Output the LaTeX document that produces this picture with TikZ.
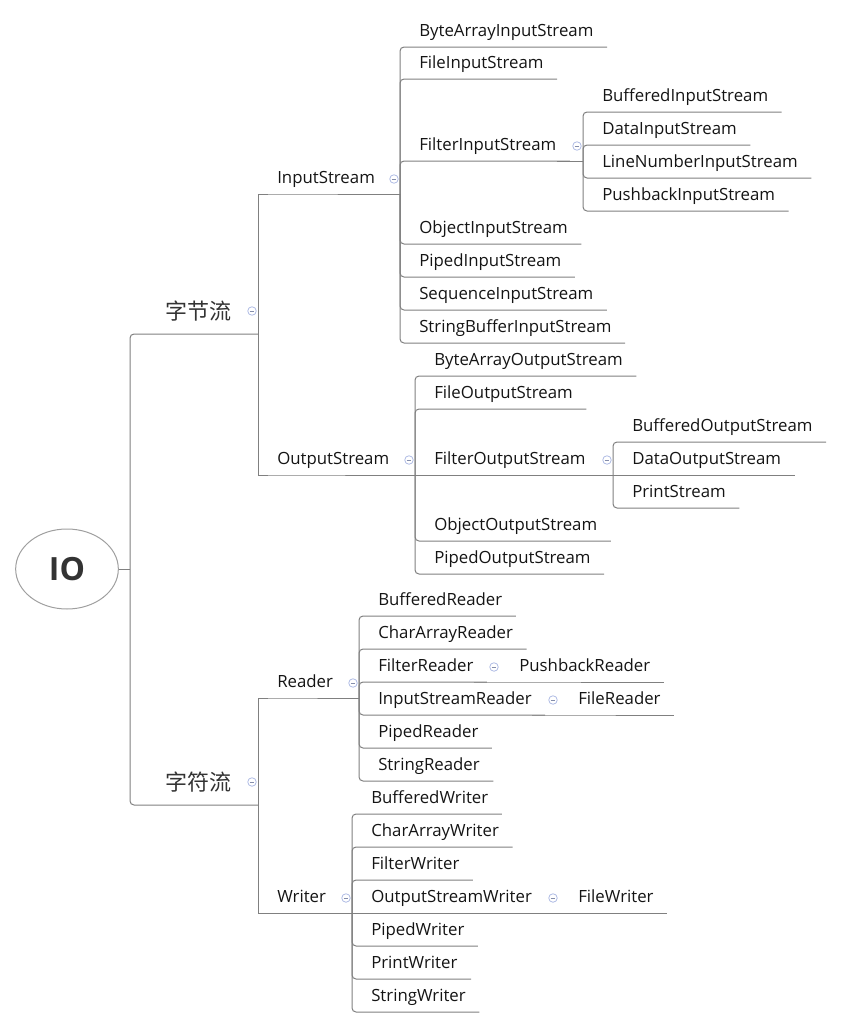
\documentclass[tikz,border=0pt]{standalone}
\usepackage{fontspec}
\setmainfont{Open Sans}
\newfontfamily\cjk{Noto Sans CJK SC}
\usepackage{tikz}
\usetikzlibrary{positioning,shapes.geometric}

\definecolor{linegray}{RGB}{128,128,128}
\definecolor{foldblue}{RGB}{176,188,228}
\definecolor{textdark}{RGB}{51,51,51}

\tikzset{
  link/.style={draw=linegray, line width=0.75pt, rounded corners=3pt},
  stem/.style={draw=linegray, line width=0.75pt},
  leaf/.style={anchor=south west, inner sep=0pt, text height=9pt, text depth=7.5pt,
    font=\fontsize{12.6}{14}\selectfont, text=black!92},
  cat/.style={anchor=south west, inner sep=0pt, text height=13pt, text depth=10.5pt,
    font=\cjk\fontsize{16.5}{18}\selectfont, text=textdark},
  iobox/.style={ellipse, draw=gray!75, line width=0.75pt, minimum width=77pt,
    minimum height=60pt, inner sep=0pt, font=\bfseries\fontsize{24}{26}\selectfont,
    text=textdark},
  fold/.style={circle, draw=foldblue, line width=0.6pt, minimum size=6.4pt, inner sep=0pt,
    path picture={\draw[foldblue!75!black, line width=0.6pt]
      ([xshift=-1.7pt]path picture bounding box.center) --
      ([xshift=1.7pt]path picture bounding box.center);}},
}

\begin{document}
\begin{tikzpicture}[x=0.75pt, y=-0.75pt]
    \useasboundingbox (0,0) rectangle (844,1028);

    % 
    \node[iobox] (io) at (67,569) {IO};
    \coordinate (io-j) at (130,569);
    \draw[stem] (io) -- (io-j);

    % 
    \node[cat] (byte) at (165,334) {字节流};
    \node[cat] (char) at (165,805) {字符流};
    \coordinate (byte-j) at (258,334);
    \coordinate (char-j) at (258,805);
    \draw[link] (io-j) |- (byte.south west) -- (byte-j);
    \draw[link] (io-j) |- (char.south west) -- (char-j);

    % 
    \node[leaf] (is) at (277,194) {InputStream};
    \node[leaf] (os) at (277,475) {OutputStream};
    \node[leaf] (rd) at (277,698) {Reader};
    \node[leaf] (wr) at (277,913) {Writer};
    \coordinate (is-j) at (400,194);
    \coordinate (os-j) at (415,475);
    \coordinate (rd-j) at (359,698);
    \coordinate (wr-j) at (352,913);
    \draw[stem] (byte-j) |- (is.south west) -- (is-j);
    \draw[stem] (byte-j) |- (os.south west) -- (os-j);
    \draw[stem] (char-j) |- (rd.south west) -- (rd-j);
    \draw[stem] (char-j) |- (wr.south west) -- (wr-j);

    % 
    \foreach \n/\txt/\y in {bais/ByteArrayInputStream/47, fis/FileInputStream/79,
        fils/FilterInputStream/161, ois/ObjectInputStream/244, pis/PipedInputStream/277,
        sis/SequenceInputStream/310, sbis/StringBufferInputStream/343} {
        \node[leaf] (\n) at (419,\y) {\txt};
        \draw[link] (is-j) |- (\n.south west) -- ([xshift=10pt]\n.south east);
    }
    \coordinate (fils-j) at (583,161);
    \draw[stem] (fils.south east) -- (fils-j);
    \foreach \n/\txt/\y in {bfis/BufferedInputStream/112, dis/DataInputStream/145,
        lnis/LineNumberInputStream/178, pbis/PushbackInputStream/211} {
        \node[leaf] (\n) at (602,\y) {\txt};
        \draw[link] (fils-j) |- (\n.south west) -- ([xshift=10pt]\n.south east);
    }

    % 
    \foreach \n/\txt/\y in {baos/ByteArrayOutputStream/376, fos/FileOutputStream/409,
        oos/ObjectOutputStream/541, pos/PipedOutputStream/574} {
        \node[leaf] (\n) at (434,\y) {\txt};
        \draw[link] (os-j) |- (\n.south west) -- ([xshift=10pt]\n.south east);
    }
    \node[leaf] (filos) at (434,475) {FilterOutputStream};
    \coordinate (filos-j) at (613,475);
    \draw[stem] (os-j) -- (filos-j);
    \foreach \n/\txt/\y in {bos/BufferedOutputStream/442, ps/PrintStream/508} {
        \node[leaf] (\n) at (632,\y) {\txt};
        \draw[link] (filos-j) |- (\n.south west) -- ([xshift=10pt]\n.south east);
    }
    \node[leaf] (dos) at (632,475) {DataOutputStream};
    \draw[stem] (filos-j) -- ([xshift=10pt]dos.south east);

    % 
    \foreach \n/\txt/\y in {br/BufferedReader/616, car/CharArrayReader/649,
        fr/FilterReader/682, isr/InputStreamReader/715, pr/PipedReader/748,
        sr/StringReader/781} {
        \node[leaf] (\n) at (378,\y) {\txt};
        \draw[link] (rd-j) |- (\n.south west) -- ([xshift=10pt]\n.south east);
    }
    \coordinate (fr-j) at (500,682);
    \coordinate (isr-j) at (559,715);
    \node[leaf] (pbr) at (519,682) {PushbackReader};
    \node[leaf] (flr) at (578,715) {FileReader};
    \draw[stem] (fr.south east) -- (fr-j) -- ([xshift=10pt]pbr.south east);
    \draw[stem] (isr.south east) -- (isr-j) -- ([xshift=10pt]flr.south east);

    % 
    \foreach \n/\txt/\y in {bw/BufferedWriter/814, caw/CharArrayWriter/847,
        fw/FilterWriter/880, pw/PipedWriter/946, prw/PrintWriter/979,
        sw/StringWriter/1012} {
        \node[leaf] (\n) at (371,\y) {\txt};
        \draw[link] (wr-j) |- (\n.south west) -- ([xshift=10pt]\n.south east);
    }
    \node[leaf] (osw) at (371,913) {OutputStreamWriter};
    \coordinate (osw-j) at (559,913);
    \node[leaf] (flw) at (578,913) {FileWriter};
    \draw[stem] (wr-j) -- (osw-j) -- ([xshift=10pt]flw.south east);

    % 
    \node[fold] (byte-m) at ([shift={(-6,-23)}]byte-j) {};
    \node[fold] (char-m) at ([shift={(-6,-23)}]char-j) {};
    \foreach \j in {is,fils,os,filos,rd,fr,isr,wr,osw} {
        \node[fold] (\j-m) at ([shift={(-6,-15)}]\j-j) {};
    }
\end{tikzpicture}
\end{document}
